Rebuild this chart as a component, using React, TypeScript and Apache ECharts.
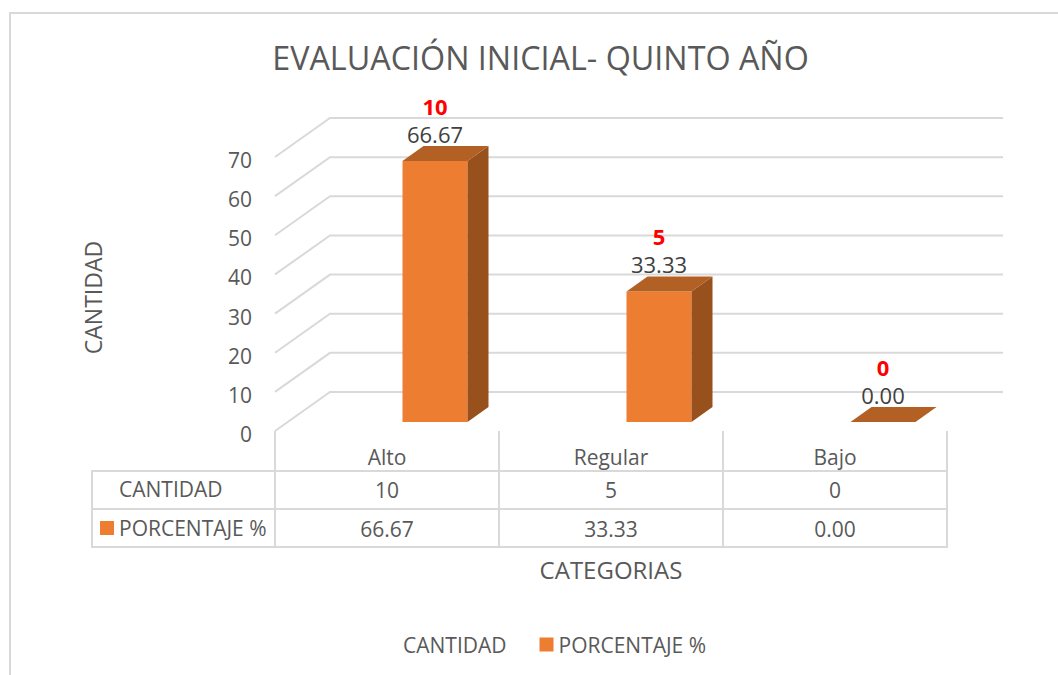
import React, { useEffect, useRef } from "react";
import * as echarts from "echarts";

const categories = ["Alto", "Regular", "Bajo"];
const cantidad = [10, 5, 0];
const porcentaje = [66.67, 33.33, 0.0];
const porcentajeLabels = ["66.67", "33.33", "0.00"];
const yTicks = [0, 10, 20, 30, 40, 50, 60, 70];

const FONT = "'Open Sans', sans-serif";
const TEXT = "#595959";
const LINE = "#d9d9d9";
const FRONT = "#ED7D31";
const TOP = "#B36024";
const SIDE = "#98501C";

const GRID = { left: 275, right: 947, top: 157, bottom: 431 };
const BACK_X = 55;
const BACK_Y = -39;
const BAR_W = 65;
const BAR_DX = 48;
const BAR_DY = -9;
const DEPTH_X = 21;
const DEPTH_Y = -15;

export default function App() {
  const ref = useRef<HTMLDivElement>(null);
  useEffect(() => {
    const chart = echarts.init(ref.current!, null, { renderer: "svg" });
    const colW = (GRID.right - GRID.left) / categories.length;
    const cell = (text: string, x: number, y: number, align = "center") => ({
      type: "text",
      x,
      y,
      silent: true,
      style: { text, font: `21px ${FONT}`, fill: TEXT, align, verticalAlign: "middle" },
    });
    const line = (x1: number, y1: number, x2: number, y2: number) => ({
      type: "line",
      silent: true,
      shape: { x1, y1, x2, y2 },
      style: { stroke: LINE, lineWidth: 2 },
    });
    const tableLines = [
      line(91, 471, GRID.right, 471),
      line(91, 509, GRID.right, 509),
      line(91, 547, GRID.right, 547),
      line(92, 470, 92, 548),
      ...[0, 1, 2, 3].map((i) => line(GRID.left + i * colW, 471, GRID.left + i * colW, 548)),
    ];
    const tableTexts = [
      cell("CANTIDAD", 119, 489, "left"),
      cell("PORCENTAJE %", 119, 528, "left"),
      ...categories.flatMap((_, i) => [
        cell(String(cantidad[i]), GRID.left + (i + 0.5) * colW, 490),
        cell(porcentajeLabels[i], GRID.left + (i + 0.5) * colW, 529),
      ]),
    ];

    chart.setOption({
      animation: false,
      textStyle: { fontFamily: FONT },
      title: {
        text: "EVALUACIÓN INICIAL- QUINTO AÑO",
        left: 535.5,
        top: 36,
        textAlign: "center",
        textStyle: { fontSize: 32.3, fontWeight: "normal", color: TEXT, fontFamily: FONT },
      },
      legend: {
        left: 379,
        top: 629,
        itemWidth: 14,
        itemHeight: 14,
        itemGap: 33,
        selectedMode: false,
        data: [
          { name: "CANTIDAD", icon: "rect", itemStyle: { color: "rgba(0,0,0,0)" } },
          { name: "PORCENTAJE %", icon: "rect", itemStyle: { color: FRONT } },
        ],
        textStyle: { fontSize: 21, color: TEXT, fontFamily: FONT },
      },
      grid: { left: GRID.left, top: GRID.top, width: GRID.right - GRID.left, height: GRID.bottom - GRID.top },
      xAxis: {
        type: "category",
        data: categories,
        name: "CATEGORIAS",
        nameLocation: "middle",
        nameGap: 126,
        nameTextStyle: { fontSize: 24, color: TEXT, fontFamily: FONT },
        axisLine: { show: false },
        axisTick: { show: true, length: 40, inside: false, lineStyle: { color: LINE, width: 2 } },
        axisLabel: { fontSize: 21, color: TEXT, fontFamily: FONT, margin: 15 },
      },
      yAxis: {
        type: "value",
        min: 0,
        max: 70,
        interval: 10,
        name: "CANTIDAD",
        nameLocation: "middle",
        nameGap: 171,
        nameRotate: 90,
        nameTextStyle: { fontSize: 23, color: TEXT, fontFamily: FONT, padding: [0, 7, 0, 0] },
        axisLine: { show: false },
        axisTick: { show: false },
        splitLine: { show: false },
        axisLabel: {
          margin: 23,
          formatter: "{a|{value}}",
          rich: { a: { fontSize: 21, color: TEXT, fontFamily: FONT, padding: [6, 0, 0, 0] } },
        },
      },
      graphic: [
        {
          type: "rect",
          silent: true,
          shape: { x: 10, y: 13, width: 1070, height: 690 },
          style: { fill: "none", stroke: LINE, lineWidth: 2 },
        },
        { type: "rect", silent: true, shape: { x: 100, y: 521, width: 14, height: 14 }, style: { fill: FRONT } },
        ...tableLines,
        ...tableTexts,
      ],
      series: [
        {
          name: "gridlines",
          type: "custom",
          coordinateSystem: "cartesian2d",
          silent: true,
          z: 1,
          data: yTicks.map((t) => [0, t]),
          renderItem: (_p: any, api: any) => {
            const y = api.coord([0, api.value(1)])[1];
            return {
              type: "polyline",
              shape: {
                points: [
                  [GRID.left, y],
                  [GRID.left + BACK_X, y + BACK_Y],
                  [GRID.right + BACK_X + 1, y + BACK_Y],
                ],
              },
              style: { stroke: LINE, lineWidth: 2, fill: "none" },
            };
          },
        },
        {
          name: "PORCENTAJE %",
          type: "custom",
          coordinateSystem: "cartesian2d",
          silent: true,
          z: 3,
          itemStyle: { color: FRONT },
          data: porcentaje.map((v, i) => [i, v]),
          renderItem: (_p: any, api: any) => {
            const i = api.value(0);
            const [cx, yTop0] = api.coord([i, api.value(1)]);
            const yBase = api.coord([i, 0])[1] + BAR_DY;
            const yTop = yTop0 + BAR_DY;
            const x0 = cx + BAR_DX - BAR_W / 2;
            const x1 = x0 + BAR_W;
            const children: any[] = [];
            if (yBase - yTop > 0.5) {
              children.push({
                type: "rect",
                shape: { x: x0, y: yTop, width: BAR_W, height: yBase - yTop },
                style: { fill: FRONT },
              });
              children.push({
                type: "polygon",
                shape: {
                  points: [
                    [x1, yTop],
                    [x1 + DEPTH_X, yTop + DEPTH_Y],
                    [x1 + DEPTH_X, yBase + DEPTH_Y],
                    [x1, yBase],
                  ],
                },
                style: { fill: SIDE },
              });
            }
            children.push({
              type: "polygon",
              shape: {
                points: [
                  [x0, yTop],
                  [x1, yTop],
                  [x1 + DEPTH_X, yTop + DEPTH_Y],
                  [x0 + DEPTH_X, yTop + DEPTH_Y],
                ],
              },
              style: { fill: TOP },
            });
            children.push({
              type: "text",
              style: {
                text: porcentajeLabels[i],
                x: cx + BAR_DX,
                y: yTop - 27.5,
                align: "center",
                verticalAlign: "middle",
                font: `22px ${FONT}`,
                fill: "#404040",
              },
            });
            return { type: "group", children };
          },
        },
        {
          name: "CANTIDAD",
          type: "custom",
          coordinateSystem: "cartesian2d",
          silent: true,
          z: 4,
          itemStyle: { color: "rgba(0,0,0,0)" },
          data: cantidad.map((v, i) => [i, porcentaje[i], v]),
          renderItem: (_p: any, api: any) => {
            const [cx, y] = api.coord([api.value(0), api.value(1)]);
            return {
              type: "text",
              style: {
                text: String(api.value(2)),
                x: cx + BAR_DX,
                y: y + BAR_DY - 55.5,
                align: "center",
                verticalAlign: "middle",
                font: `bold 22px ${FONT}`,
                fill: "#FF0000",
              },
            };
          },
        },
      ],
    });
    return () => chart.dispose();
  }, []);
  return <div ref={ref} style={{ position: "absolute", left: 0, top: 0, width: 1058, height: 675 }} />;
}
